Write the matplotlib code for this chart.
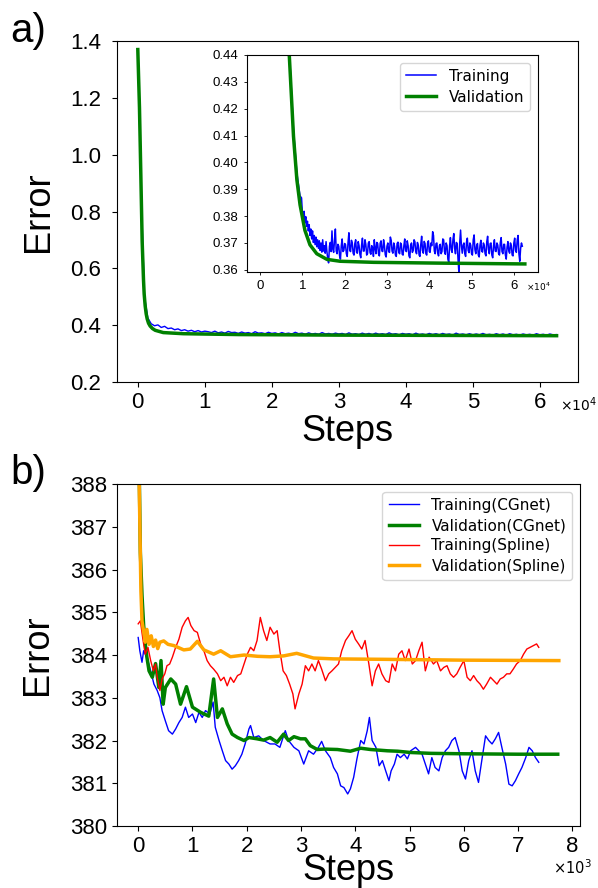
import numpy as np
import matplotlib.pyplot as plt
from matplotlib.ticker import FuncFormatter

plt.rcParams['font.family'] = ['Liberation Sans', 'DejaVu Sans']
plt.rcParams['mathtext.fontset'] = 'dejavusans'

# ---------------- a) main panel ----------------
a_steps = np.arange(0, 62501, 500)
a_train = [1.37, 0.87, 0.50, 0.425, 0.405, 0.398, 0.401, 0.392, 0.396, 0.388,
           0.390, 0.384, 0.387, 0.381, 0.384, 0.379, 0.382, 0.377, 0.381, 0.376,
           0.379,
           0.377, 0.374, 0.379, 0.373, 0.376, 0.372, 0.378, 0.374, 0.375, 0.371,
           0.376, 0.372, 0.374, 0.370, 0.377, 0.372, 0.373, 0.370, 0.375, 0.371,
           0.373, 0.369, 0.374, 0.370, 0.372, 0.369, 0.375, 0.370, 0.372, 0.368,
           0.373, 0.369, 0.371, 0.368, 0.374, 0.369, 0.371, 0.368, 0.372, 0.369,
           0.371, 0.367, 0.373, 0.368, 0.370, 0.367, 0.372, 0.368, 0.371, 0.367,
           0.372, 0.368, 0.370, 0.367, 0.373, 0.368, 0.370, 0.366, 0.371, 0.368,
           0.370, 0.366, 0.372, 0.367, 0.369, 0.366, 0.371, 0.367, 0.370, 0.366,
           0.371, 0.367, 0.369, 0.365, 0.372, 0.367, 0.369, 0.366, 0.370, 0.366,
           0.369, 0.366, 0.371, 0.366, 0.368, 0.365, 0.370, 0.366, 0.369, 0.365,
           0.370, 0.366, 0.368, 0.365, 0.369, 0.366, 0.368, 0.365, 0.370, 0.366,
           0.368, 0.365, 0.369, 0.366, 0.367]
a_val_steps = [0, 250, 450, 650, 850, 950, 1100, 1250, 1400, 1600, 1840, 2200, 2600,
               3800, 6800, 15000, 30000, 62500]
a_val = [1.37, 1.165, 0.932, 0.696, 0.56, 0.51, 0.468, 0.440, 0.422, 0.407, 0.397,
         0.388, 0.382, 0.374, 0.370, 0.367, 0.365, 0.363]

# ---------------- a) inset ----------------
in_val_steps = [0, 2000, 4000, 5500, 6900, 7900, 8700, 9450, 10600, 11800, 13400,
                15800, 18900, 26800, 42500, 62600]
in_val = [1.37, 0.80, 0.55, 0.48, 0.44, 0.4097, 0.3935, 0.3842, 0.3747, 0.3693, 0.366,
          0.3639, 0.3632, 0.3628, 0.3625, 0.3622]
in_train_head_steps = [0, 2000, 4000, 5500, 6900, 7900, 8700, 9450]
in_train_head = [1.37, 0.80, 0.55, 0.48, 0.442, 0.412, 0.396, 0.3875]
in_train_tail_steps = np.arange(9800, 62001, 200)
in_train_tail = [
    0.3868, 0.3812, 0.3790, 0.3818, 0.3775, 0.3798, 0.3762, 0.3781, 0.3745, 0.3768,
    0.3728, 0.3752, 0.3715, 0.3745, 0.3702, 0.3728, 0.3694, 0.3722, 0.3686, 0.3712,
    0.3680, 0.3708, 0.3672, 0.3700, 0.3666, 0.3712, 0.3670, 0.3690, 0.3662, 0.3705,
    0.3668, 0.3640, 0.3626, 0.3688, 0.3702, 0.3668, 0.3745, 0.3676, 0.3665, 0.3712,
    0.3752, 0.3670, 0.3660, 0.3695, 0.3688, 0.3652, 0.3640, 0.3690, 0.3715, 0.3668,
    0.3672, 0.3698, 0.3694, 0.3660, 0.3650, 0.3702, 0.3738, 0.3672, 0.3668, 0.3710,
    0.3700, 0.3662, 0.3655, 0.3698, 0.3712, 0.3665, 0.3662, 0.3705, 0.3690, 0.3658,
    0.3645, 0.3692, 0.3718, 0.3670, 0.3670, 0.3712, 0.3695, 0.3655, 0.3660, 0.3700,
    0.3705, 0.3664, 0.3658, 0.3690, 0.3682, 0.3650, 0.3712, 0.3680, 0.3660, 0.3702,
    0.3698, 0.3660, 0.3652, 0.3700, 0.3708, 0.3670, 0.3668, 0.3712, 0.3690, 0.3656,
    0.3648, 0.3688, 0.3700, 0.3668, 0.3665, 0.3722, 0.3710, 0.3670, 0.3662, 0.3700,
    0.3688, 0.3655, 0.3650, 0.3698, 0.3703, 0.3664, 0.3660, 0.3700, 0.3695, 0.3658,
    0.3655, 0.3690, 0.3715, 0.3672, 0.3668, 0.3708, 0.3690, 0.3652, 0.3645, 0.3692,
    0.3700, 0.3665, 0.3672, 0.3712, 0.3705, 0.3668, 0.3660, 0.3702, 0.3692, 0.3655,
    0.3650, 0.3695, 0.3725, 0.3672, 0.3662, 0.3706, 0.3698, 0.3660, 0.3655, 0.3700,
    0.3708, 0.3668, 0.3665, 0.3700, 0.3690, 0.3742, 0.3728, 0.3670, 0.3660, 0.3698,
    0.3700, 0.3662, 0.3652, 0.3690, 0.3695, 0.3660, 0.3668, 0.3715, 0.3712, 0.3668,
    0.3658, 0.3700, 0.3690, 0.3640, 0.3628, 0.3688, 0.3720, 0.3675, 0.3665, 0.3712,
    0.3735, 0.3680, 0.3660, 0.3702, 0.3698, 0.3640, 0.3592, 0.3700, 0.3748, 0.3690,
    0.3662, 0.3692, 0.3700, 0.3660, 0.3650, 0.3702, 0.3718, 0.3672, 0.3664, 0.3700,
    0.3692, 0.3660, 0.3655, 0.3712, 0.3730, 0.3675, 0.3660, 0.3690, 0.3698, 0.3655,
    0.3648, 0.3692, 0.3710, 0.3670, 0.3666, 0.3700, 0.3692, 0.3660, 0.3652, 0.3705,
    0.3725, 0.3675, 0.3660, 0.3698, 0.3700, 0.3655, 0.3645, 0.3690, 0.3712, 0.3670,
    0.3668, 0.3700, 0.3692, 0.3660, 0.3655, 0.3702, 0.3720, 0.3668, 0.3660, 0.3695,
    0.3695, 0.3655, 0.3640, 0.3685, 0.3705, 0.3670, 0.3662, 0.3700, 0.3690, 0.3655,
    0.3652, 0.3700, 0.3718, 0.3672, 0.3665, 0.3712, 0.3728, 0.3660, 0.3632, 0.3680,
    0.3700, 0.3688]
in_train_steps = np.concatenate([in_train_head_steps, in_train_tail_steps])
in_train = in_train_head + in_train_tail

# ---------------- b) panel ----------------
b_cg_train_steps = [0, 30, 70, 100, 160, 230, 290, 350, 400, 440, 500, 560, 630, 690, 750,
                    810, 870, 930, 1000, 1060, 1120, 1180, 1240, 1320, 1380, 1420, 1490,
                    1550, 1610, 1670, 1730, 1790, 1850, 1910, 1970, 2040, 2070, 2130, 2220,
                    2310, 2430, 2520, 2610, 2710, 2770, 2870, 2960, 3050, 3140, 3230, 3320,
                    3380, 3450, 3540, 3600, 3670, 3730, 3790, 3860, 3910, 3970, 4030, 4100,
                    4160, 4220, 4260, 4310, 4380, 4440, 4500, 4560, 4620, 4660, 4720, 4770,
                    4830, 4900, 4960, 5020, 5110, 5170, 5230, 5290, 5350, 5410, 5470, 5540,
                    5600, 5660, 5720, 5780, 5840, 5910, 5970, 6030, 6090, 6150, 6210, 6270,
                    6330, 6400, 6460, 6520, 6580, 6640, 6700, 6770, 6830, 6890, 6950, 7010,
                    7070, 7140, 7200, 7260, 7320, 7380]
b_cg_train = [384.41, 384.10, 383.83, 384.10, 383.95, 383.63, 383.32, 383.17, 383.00, 382.70,
              382.46, 382.23, 382.15, 382.27, 382.42, 382.54, 382.78, 382.54, 382.62, 382.42,
              382.66, 382.54, 382.70, 382.62, 382.90, 382.31, 382.00, 381.76, 381.53, 381.45,
              381.33, 381.41, 381.53, 381.68, 381.92, 382.27, 382.35, 382.07, 382.11, 382.00,
              381.92, 381.92, 381.84, 382.23, 382.00, 381.84, 381.76, 381.45, 381.76, 381.68,
              381.84, 381.98, 381.76, 381.60, 381.37, 381.22, 380.94, 380.90, 380.75, 380.87,
              381.14, 381.57, 382.00, 381.92, 382.23, 382.54, 382.00, 381.84, 381.41, 381.53,
              381.29, 381.06, 381.29, 381.45, 381.68, 381.60, 381.68, 381.57, 381.76, 381.84,
              381.76, 381.68, 381.45, 381.22, 381.60, 381.37, 381.29, 381.60, 381.76, 381.84,
              382.00, 382.07, 381.76, 381.29, 381.10, 381.53, 381.76, 381.29, 381.02, 381.53,
              382.11, 382.00, 381.92, 382.04, 382.19, 381.84, 381.45, 380.98, 380.94, 381.06,
              381.22, 381.37, 381.60, 381.84, 381.76, 381.60, 381.49]

b_cg_val_steps = [0, 40, 70, 100, 130, 160, 200, 260, 320, 380, 420, 460, 500, 600, 690,
                  780, 890, 1000, 1150, 1300, 1390, 1460, 1550, 1640, 1730, 1830, 1950,
                  2040, 2190, 2310, 2430, 2560, 2680, 2770, 2870, 2990, 3080, 3170, 3300,
                  3420, 3670, 3910, 4100, 4280, 4590, 4780, 5020, 5390, 6000, 7000, 7730]
b_cg_val = [390.0, 386.4, 385.4, 384.7, 384.26, 383.95, 383.63, 383.48, 383.8, 383.24,
            383.87, 382.85, 383.24, 383.44, 383.32, 382.85, 383.26, 382.78, 382.66, 382.57,
            383.44, 382.54, 382.74, 382.39, 382.15, 382.07, 382.0, 382.07, 382.04, 382.01,
            382.07, 381.96, 382.15, 382.0, 382.09, 382.04, 382.04, 381.88, 381.79, 381.8,
            381.79, 381.75, 381.82, 381.79, 381.76, 381.75, 381.72, 381.7, 381.69, 381.68,
            381.68]

b_sp_train_steps = [0, 40, 90, 130, 180, 230, 280, 320, 350, 400, 440, 490, 530, 580, 630,
                    690, 750, 810, 870, 920, 970, 1030, 1090, 1150, 1210, 1270, 1330, 1390,
                    1460, 1520, 1580, 1640, 1700, 1760, 1830, 1890, 1950, 2010, 2070, 2130,
                    2190, 2250, 2310, 2370, 2430, 2500, 2560, 2610, 2670, 2730, 2790, 2850,
                    2890, 2960, 3020, 3080, 3140, 3200, 3260, 3320, 3380, 3450, 3510, 3570,
                    3630, 3690, 3750, 3820, 3880, 3940, 4000, 4060, 4120, 4180, 4250, 4310,
                    4370, 4430, 4490, 4560, 4620, 4680, 4740, 4800, 4860, 4920, 4990, 5050,
                    5110, 5170, 5230, 5290, 5360, 5440, 5500, 5570, 5630, 5690, 5750, 5810,
                    5870, 5930, 6000, 6060, 6120, 6180, 6240, 6300, 6360, 6420, 6490, 6550,
                    6610, 6670, 6730, 6790, 6850, 6910, 6970, 7040, 7100, 7160, 7220, 7280,
                    7340, 7380]
b_sp_train = [384.73, 384.80, 384.34, 384.02, 384.18, 383.87, 383.63, 383.79, 383.48, 383.17,
              383.44, 383.56, 383.75, 383.79, 383.95, 384.18, 384.37, 384.65, 384.80, 384.88,
              384.69, 384.57, 384.53, 384.26, 384.10, 383.87, 383.75, 383.67, 383.56, 383.40,
              383.48, 383.28, 383.48, 383.36, 383.52, 383.56, 383.79, 384.02, 384.18, 384.10,
              384.34, 384.88, 384.57, 384.34, 384.65, 384.49, 384.57, 384.10, 383.63, 383.52,
              383.32, 383.09, 382.74, 383.09, 383.32, 383.75, 383.63, 383.79, 383.63, 383.87,
              383.67, 383.40, 383.56, 383.63, 383.71, 383.79, 384.10, 384.34, 384.45, 384.57,
              384.37, 384.26, 384.14, 384.34, 383.79, 383.28, 383.63, 383.79, 383.56, 383.40,
              383.36, 383.79, 383.63, 384.02, 384.10, 383.87, 384.14, 383.79, 383.87, 384.10,
              384.30, 383.63, 383.95, 383.79, 383.87, 383.63, 383.71, 383.75, 383.56, 383.48,
              383.56, 383.71, 383.87, 383.48, 383.40, 383.52, 383.40, 383.32, 383.20, 383.32,
              383.48, 383.40, 383.32, 383.44, 383.48, 383.56, 383.56, 383.67, 383.79, 383.87,
              384.02, 384.14, 384.18, 384.22, 384.26, 384.18]

b_sp_val_steps = [0, 50, 70, 100, 130, 160, 200, 240, 280, 320, 360, 400, 470, 550, 660,
                  840, 960, 1090, 1210, 1390, 1520, 1700, 1950, 2200, 2430, 2680, 2920,
                  3230, 3600, 4500, 6000, 7750]
b_sp_val = [389.5, 385.5, 384.8, 384.55, 384.3, 384.6, 384.25, 384.45, 384.2, 384.35,
            384.15, 384.3, 384.33, 384.25, 384.22, 384.12, 384.14, 384.32, 384.12, 384.02,
            384.1, 383.96, 384.0, 383.97, 383.96, 383.98, 384.04, 383.93, 383.91, 383.9,
            383.88, 383.87]

fig = plt.figure(figsize=(5.98, 8.88), dpi=100)

# ---- panel a ----
ax_a = fig.add_axes([0.1957, 0.5698, 0.7709, 0.3840])
ax_a.plot(a_steps, a_train, color='blue', lw=1.0)
ax_a.plot(a_val_steps, a_val, color='green', lw=2.5)
ax_a.set_xlim(-3100, 65700)
ax_a.set_ylim(0.2, 1.4)
ax_a.set_yticks([0.2, 0.4, 0.6, 0.8, 1.0, 1.2, 1.4])
ax_a.set_xticks(np.arange(0, 60001, 10000))
ax_a.xaxis.set_major_formatter(FuncFormatter(lambda v, p: f"{v / 1e4:g}"))
ax_a.yaxis.set_major_formatter(FuncFormatter(lambda v, p: f"{v:.1f}"))
ax_a.tick_params(labelsize=16, length=3.5, width=0.8)
ax_a.tick_params(axis='y', pad=8)
ax_a.set_xlabel('Steps', fontsize=26)
ax_a.set_ylabel('Error', fontsize=26)
ax_a.xaxis.set_label_coords(0.5, -0.0935)
ax_a.yaxis.set_label_coords(-0.133, 0.5)
ax_a.text(1.0, -0.067, r'$\times10^{4}$', transform=ax_a.transAxes,
          ha='center', va='center', fontsize=10)

# ---- inset ----
ax_in = fig.add_axes([0.413, 0.6937, 0.4866, 0.2444])
ax_in.plot(in_train_steps, in_train, color='blue', lw=1.1, label='Training')
ax_in.plot(in_val_steps, in_val, color='green', lw=2.5, label='Validation')
ax_in.set_xlim(-3100, 65700)
ax_in.set_ylim(0.3592, 0.44)
ax_in.set_yticks(np.arange(0.36, 0.4401, 0.01))
ax_in.set_xticks(np.arange(0, 60001, 10000))
ax_in.xaxis.set_major_formatter(FuncFormatter(lambda v, p: f"{v / 1e4:g}"))
ax_in.yaxis.set_major_formatter(FuncFormatter(lambda v, p: f"{v:.2f}"))
ax_in.tick_params(labelsize=9.5, length=2.5, width=0.6)
ax_in.text(1.0, -0.07, r'$\times10^{4}$', transform=ax_in.transAxes,
           ha='center', va='center', fontsize=6.5)
ax_in.legend(loc='upper right', prop={'family': 'DejaVu Sans', 'size': 11},
             labelspacing=0.4)

# ---- panel b ----
ax_b = fig.add_axes([0.1957, 0.0698, 0.7742, 0.3851])
ax_b.plot(b_cg_train_steps, b_cg_train, color='blue', lw=1.0, label='Training(CGnet)')
ax_b.plot(b_cg_val_steps, b_cg_val, color='green', lw=2.5, label='Validation(CGnet)')
ax_b.plot(b_sp_train_steps, b_sp_train, color='red', lw=1.0, label='Training(Spline)')
ax_b.plot(b_sp_val_steps, b_sp_val, color='orange', lw=2.5, label='Validation(Spline)')
ax_b.set_xlim(-390, 8140)
ax_b.set_ylim(380, 388)
ax_b.set_yticks(np.arange(380, 389, 1))
ax_b.set_xticks(np.arange(0, 8001, 1000))
ax_b.xaxis.set_major_formatter(FuncFormatter(lambda v, p: f"{v / 1e3:g}"))
ax_b.tick_params(labelsize=16, length=3.5, width=0.8)
ax_b.set_xlabel('Steps', fontsize=26)
ax_b.set_ylabel('Error', fontsize=26)
ax_b.xaxis.set_label_coords(0.5, -0.080)
ax_b.yaxis.set_label_coords(-0.133, 0.5)
ax_b.text(0.983, -0.121, r'$\times10^{3}$', transform=ax_b.transAxes,
          ha='center', va='center', fontsize=10.5)
ax_b.legend(loc='upper right', prop={'family': 'DejaVu Sans', 'size': 11},
            labelspacing=0.35)

fig.text(0.0176, 0.986, 'a)', fontsize=29, ha='left', va='top')
fig.text(0.0176, 0.4885, 'b)', fontsize=29, ha='left', va='top')

fig.savefig('out.png', dpi=100)
